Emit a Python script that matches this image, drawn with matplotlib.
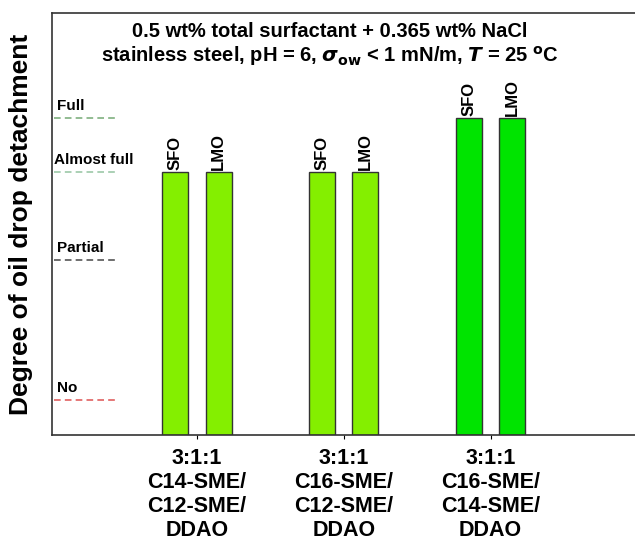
import matplotlib.pyplot as plt
import numpy as np

plt.rcParams['font.family'] = ['Liberation Sans', 'DejaVu Sans']

# data
groups = ['3:1:1\nC14-SME/\nC12-SME/\nDDAO',
          '3:1:1\nC16-SME/\nC12-SME/\nDDAO',
          '3:1:1\nC16-SME/\nC14-SME/\nDDAO']
oils = ['SFO', 'LMO']
level_names = ['No', 'Partial', 'Almost full', 'Full']
level_values = [8.3, 41.5, 62.3, 75.1]
level_colors = ['#e06060', '#555555', '#9cc8a8', '#7fb07f']
# detachment level index for each group (SFO, LMO)
sfo_level = [2, 2, 3]
lmo_level = [2, 2, 3]
bar_colors = ['#84ef00', '#84ef00', '#00e400']

fig = plt.figure(figsize=(6.35, 5.47), dpi=100)
ax = fig.add_axes([52 / 635, 1 - 435 / 547, 1 - 52 / 635 + 0.05, 422 / 547])

x = np.arange(1, len(groups) + 1)
off = 0.148
w = 0.177
sfo_h = [level_values[i] for i in sfo_level]
lmo_h = [level_values[i] for i in lmo_level]
ax.bar(x - off, sfo_h, w, color=bar_colors, edgecolor='#333333', linewidth=1)
ax.bar(x + off, lmo_h, w, color=bar_colors, edgecolor='#333333', linewidth=1)

for xi, h1, h2 in zip(x, sfo_h, lmo_h):
    ax.text(xi - off, h1 + 0.6, oils[0], rotation=90, ha='center', va='bottom',
            fontsize=12, fontweight='bold')
    ax.text(xi + off, h2 + 0.6, oils[1], rotation=90, ha='center', va='bottom',
            fontsize=12, fontweight='bold')

# level markers on the left
for name, val, c in zip(level_names, level_values, level_colors):
    ax.plot([0.025, 0.46], [val, val], ls=(0, (4, 2.5)), color=c, lw=1.2, clip_on=False)
    ax.text(0.05 if name != 'Almost full' else 0.03, val + 1.2, name,
            fontsize=11, fontweight='bold', va='bottom', ha='left')

ax.set_xlim(0.013, 4.2)
ax.set_ylim(0, 100)
ax.set_yticks([])
ax.set_xticks(x)
ax.set_xticklabels(groups, fontsize=15.5, fontweight='bold', linespacing=1.2)
ax.tick_params(axis='x', direction='out', length=3, pad=6)
for s in ax.spines.values():
    s.set_linewidth(1.2)
    s.set_color('#333333')
ax.spines['right'].set_visible(False)

fig.text(21 / 635, 1 - 224 / 547, 'Degree of oil drop detachment', rotation=90,
         ha='center', va='center', fontsize=19, fontweight='bold')

ax.text(0.452, 0.955, '0.5 wt% total surfactant + 0.365 wt% NaCl', transform=ax.transAxes,
        ha='center', va='center', fontsize=14.5, fontweight='bold')
ax.text(0.452, 0.897,
        r'stainless steel, pH = 6, $\boldsymbol{\sigma}_{\mathbf{ow}}$ < 1 mN/m, $\boldsymbol{T}$ = 25 $^{\mathbf{o}}$C',
        transform=ax.transAxes, ha='center', va='center', fontsize=14.5, fontweight='bold')

fig.savefig('out.png', dpi=100)
